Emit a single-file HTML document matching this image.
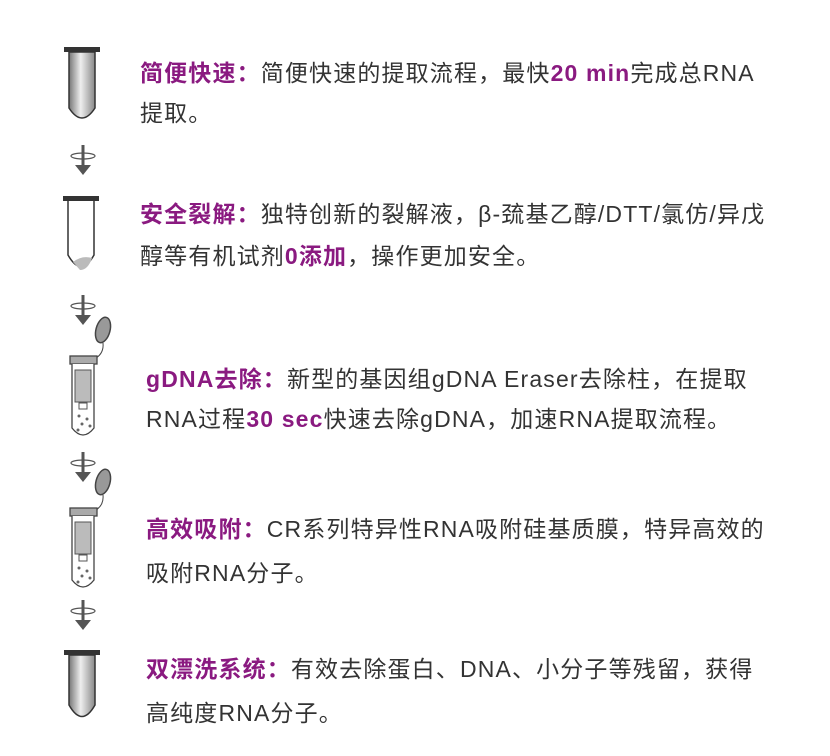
<!DOCTYPE html>
<html><head><meta charset="utf-8"><style>
body{margin:0;width:830px;height:756px;background:#fff;position:relative;overflow:hidden;font-family:"Liberation Sans","Noto Sans CJK SC",sans-serif;}
.t{position:absolute;font-size:23px;letter-spacing:1.15px;color:#333;white-space:nowrap;line-height:30px;}
.p{color:#8a1a80;font-weight:bold;}
svg{position:absolute;left:0;top:0;}
</style></head><body>
<svg width="830" height="756">
<defs>
<linearGradient id="g" x1="0" x2="1"><stop offset="0" stop-color="#777"/><stop offset=".45" stop-color="#eee"/><stop offset="1" stop-color="#888"/></linearGradient>
<g id="arr"><line x1="0" y1="0" x2="0" y2="22" stroke="#555" stroke-width="3"/><ellipse cx="0" cy="11" rx="12" ry="3" fill="none" stroke="#555" stroke-width="1.2"/><path d="M-8 20 L8 20 L0 30 Z" fill="#555"/></g>
<g id="col">
<ellipse cx="103" cy="-28" rx="7" ry="13" fill="#999" stroke="#444" stroke-width="1.5" transform="rotate(15 103 -28)"/>
<path d="M103 -15 Q104 -5 96 0" fill="none" stroke="#444" stroke-width="1"/>
<rect x="70" y="-2" width="27" height="8" fill="#aaa" stroke="#444" stroke-width="1.3"/>
<path d="M72 6 L72 70 Q83 84 94 70 L94 6" fill="#fff" stroke="#444" stroke-width="1.3"/>
<rect x="75" y="12" width="16" height="32" fill="#bbb" stroke="#555"/>
<rect x="79" y="45" width="8" height="6" fill="#fff" stroke="#555"/>
<g fill="#666"><circle cx="79" cy="58" r="1.5"/><circle cx="87" cy="61" r="1.5"/><circle cx="82" cy="66" r="1.5"/><circle cx="90" cy="68" r="1.5"/><circle cx="78" cy="72" r="1.5"/></g>
</g>
</defs>
<rect x="64" y="47" width="36" height="5" fill="#333"/>
<path d="M69 52 L69 108 Q82 128 95 108 L95 52 Z" fill="url(#g)" stroke="#333" stroke-width="1.5"/>
<use href="#arr" transform="translate(83 145)"/>
<rect x="63" y="196" width="36" height="5" fill="#333"/>
<path d="M68 201 L68 255 Q81 278 94 255 L94 201" fill="#fff" stroke="#333" stroke-width="1.5"/>
<path d="M73 262 Q82 255 92 258 Q88 270 80 270 Z" fill="#bbb"/>
<use href="#arr" transform="translate(83 295)"/>
<use href="#col" transform="translate(0 358)"/>
<use href="#arr" transform="translate(83 452)"/>
<use href="#col" transform="translate(0 510)"/>
<use href="#arr" transform="translate(83 600)"/>
<rect x="64" y="650" width="36" height="5" fill="#333"/>
<path d="M69 655 L69 705 Q82 728 95 705 L95 655 Z" fill="url(#g)" stroke="#333" stroke-width="1.5"/>
</svg>
<div class="t" style="left:140px;top:58px"><span class="p">简便快速：</span>简便快速的提取流程，最快<span class="p">20 min</span>完成总RNA</div>
<div class="t" style="left:140px;top:98px">提取。</div>
<div class="t" style="left:140px;top:199px"><span class="p">安全裂解：</span>独特创新的裂解液，β-巯基乙醇/DTT/氯仿/异戊</div>
<div class="t" style="left:140px;top:241px">醇等有机试剂<span class="p">0添加</span>，操作更加安全。</div>
<div class="t" style="left:146px;top:364px"><span class="p">gDNA去除：</span>新型的基因组gDNA Eraser去除柱，在提取</div>
<div class="t" style="left:146px;top:404px">RNA过程<span class="p">30 sec</span>快速去除gDNA，加速RNA提取流程。</div>
<div class="t" style="left:146px;top:514px"><span class="p">高效吸附：</span>CR系列特异性RNA吸附硅基质膜，特异高效的</div>
<div class="t" style="left:146px;top:558px">吸附RNA分子。</div>
<div class="t" style="left:146px;top:654px"><span class="p">双漂洗系统：</span>有效去除蛋白、DNA、小分子等残留，获得</div>
<div class="t" style="left:146px;top:698px">高纯度RNA分子。</div>
</body></html>
